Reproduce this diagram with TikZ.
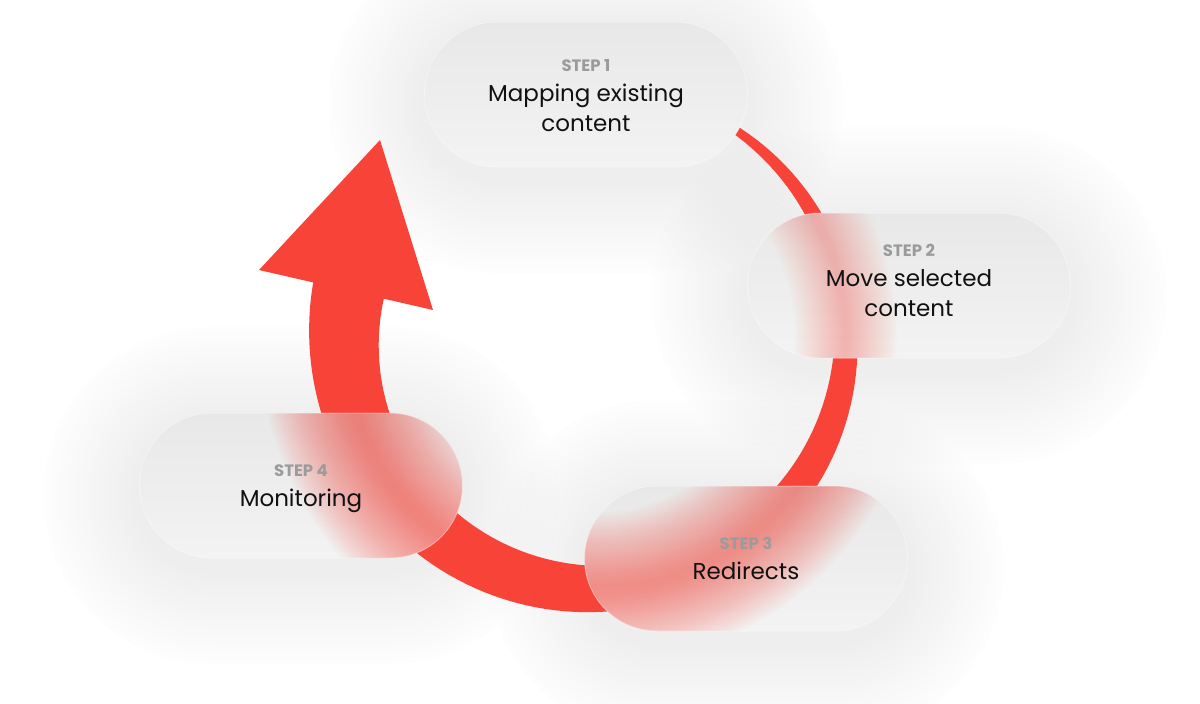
\documentclass[tikz,border=0pt]{standalone}
\usepackage{fontspec}
\setmainfont{Poppins}
\usetikzlibrary{shapes.misc}
\definecolor{arrowred}{RGB}{248,67,56}
\definecolor{stepgray}{RGB}{155,155,155}
\definecolor{txt}{RGB}{17,17,17}
\definecolor{pilltop}{RGB}{232,232,232}
\definecolor{pillbot}{RGB}{243,243,243}
\definecolor{shadowgray}{RGB}{230,230,230}
\newcommand\spiralpath{plot[domain=57:-193,samples=120] ({595+(251+(8+(57-\x)*0.26)/2)*cos(\x)},{338-(251+(8+(57-\x)*0.26)/2)*sin(\x)}) -- plot[domain=-193:57,samples=120] ({595+(251-(8+(57-\x)*0.26)/2)*cos(\x)},{338-(251-(8+(57-\x)*0.26)/2)*sin(\x)}) -- cycle}
\newcommand\midpath{plot[domain=50:-193,samples=90] ({595+251*cos(\x)},{338-251*sin(\x)})}
\newcommand\pillshadow[2]{%
  \foreach \k in {1,...,16}{%
    \fill[shadowgray,opacity=0.045,rounded corners=72.5pt+\k*6pt] (#1-161.5-\k*6,#2-72.5-\k*6+10) rectangle (#1+161.5+\k*6,#2+72.5+\k*6+10);}}
% #1,#2 centre, #3 blur width scale, #4 opacity per layer
\newcommand\pillglass[4]{%
  \begin{scope}
    \path[clip,rounded corners=72.5pt] (#1-161.5,#2-72.5) rectangle (#1+161.5,#2+72.5);
    \shade[top color=pilltop,bottom color=pillbot] (#1-162,#2-73) rectangle (#1+162,#2+73);
    \foreach \k in {0,...,29}{\draw[arrowred,line width=#3*(10+\k*5.5)*1pt,opacity=#4,line cap=butt] \midpath;}
  \end{scope}}
\tikzset{
  pilltext/.style={rounded rectangle, minimum width=323pt, minimum height=145pt, inner sep=0pt,
    align=center, text=txt, font=\fontsize{23}{30}\selectfont},
  pilledge/.style={draw=white, draw opacity=0.35, line width=1pt, rounded corners=72.5pt},
}
\newcommand\steplbl[1]{{\fontsize{16.5}{30}\selectfont\bfseries\color{stepgray}#1}}
\begin{document}
\begin{tikzpicture}[x=1pt,y=-1pt]
\useasboundingbox (0,0) rectangle (1200,704);
\fill[white] (0,0) rectangle (1200,704);
% soft shadows
\pillshadow{586}{94.5}
\pillshadow{909}{285.5}
\pillshadow{746}{558.5}
\pillshadow{301}{485.5}
% red spiral arrow
\fill[arrowred] \spiralpath;
\coordinate (tip) at (380,140);
\coordinate (barbL) at (259,270);
\coordinate (barbR) at (433,310);
\fill[arrowred] (tip) -- (barbL) -- (barbR) -- cycle;
% frosted pills
\pillglass{586}{94.5}{0}{0}
\pillglass{909}{285.5}{0.6}{0.011}
\pillglass{746}{558.5}{0.9}{0.024}
\pillglass{301}{485.5}{1}{0.026}
\draw[pilledge] (586-161.5,94.5-72.5) rectangle (586+161.5,94.5+72.5);
\draw[pilledge] (909-161.5,285.5-72.5) rectangle (909+161.5,285.5+72.5);
\draw[pilledge] (746-161.5,558.5-72.5) rectangle (746+161.5,558.5+72.5);
\draw[pilledge] (301-161.5,485.5-72.5) rectangle (301+161.5,485.5+72.5);
% texts
\node[pilltext] (s1) at (586,95.5) {\steplbl{STEP 1}\\Mapping existing\\content};
\node[pilltext] (s2) at (909,280.5) {\steplbl{STEP 2}\\Move selected\\content};
\node[pilltext] (s3) at (746,558.5) {\steplbl{STEP 3}\\Redirects};
\node[pilltext] (s4) at (301,488.5) {\steplbl{STEP 4}\\Monitoring};
\end{tikzpicture}
\end{document}
